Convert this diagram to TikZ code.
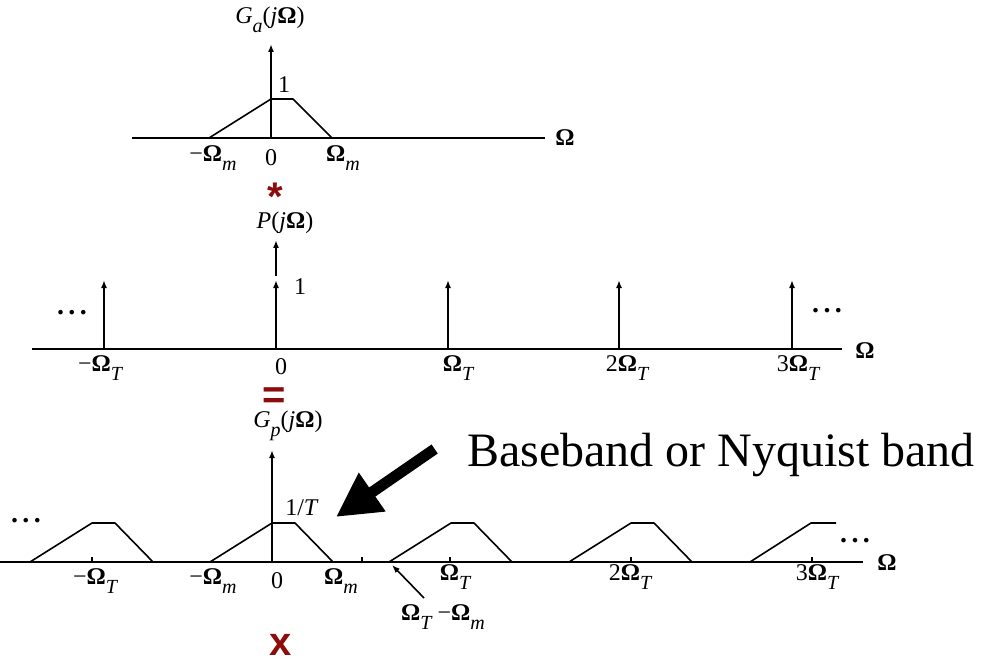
\documentclass[tikz,border=0pt]{standalone}
\usepackage{fontspec}
\setmainfont{Liberation Serif}
\newfontfamily\symfont{Liberation Sans}
\usetikzlibrary{arrows.meta,positioning}
\definecolor{darkred}{RGB}{140,12,12}
\newcommand{\Om}{\textbf{Ω}}
\newcommand{\sub}[1]{\raisebox{-0.8ex}{\fontsize{10}{11}\selectfont\itshape #1}}
\newcommand{\tdots}{\textbf{.\kern2.2pt.\kern2.2pt.}}
\tikzset{
  axis/.style={line width=0.9pt},
  imp/.style={line width=0.9pt,-{Latex[length=4pt,width=3pt]}},
  spec/.style={line width=0.8pt,line join=round},
  lbl/.style={font=\fontsize{12}{14}\selectfont,inner sep=0pt},
  dotsl/.style={font=\fontsize{14}{16}\selectfont,inner sep=0pt},
  redsym/.style={text=darkred,font=\symfont\bfseries\fontsize{20}{22}\selectfont,inner sep=0pt},
  bigarrow/.style={line width=5.5pt,-{Triangle[length=22pt,width=22pt]}}
}
\begin{document}
\begin{tikzpicture}[x=0.5pt,y=-0.5pt]
\useasboundingbox (0,0) rectangle (995,663);
\clip (0,0) rectangle (995,663);

% G_a(jOmega)
\draw[axis] (132,138) -- (545,138);
\node[lbl] (om1) at (565,138) {\Om};
\draw[imp] (271,138) -- (271,44);
\node[lbl] (ga) at (270,20) {\textit{G}\sub{a}(\textit{j}\Om)};
\draw[spec] (209,138) -- (271,99) -- (293,99) -- (332,138);
\node[lbl] (one1) at (284,85) {1};
\node[lbl] (mwm1) at (213,158) {−\Om\sub{m}};
\node[lbl] (zero1) at (271,158) {0};
\node[lbl] (wm1) at (343,158) {\Om\sub{m}};

\node[redsym] (conv) at (275,189) {\raisebox{-0.36em}[0.36em][0pt]{*}};

% P(jOmega)
\draw[axis] (32,349) -- (842,349);
\node[lbl] (om2) at (865,351) {\Om};
\foreach \x in {104,276,448,619,792}
  \draw[imp] (\x,349) -- (\x,280);
\draw[imp] (276,276) -- (276,240);
\node[lbl] (pj) at (285,223) {\textit{P}(\textit{j}\Om)};
\node[lbl] (one2) at (300,287) {1};
\node[dotsl] (dl2) at (72,313) {\tdots};
\node[dotsl] (dr2) at (827,311) {\tdots};
\node[lbl] (mwt2) at (100,368) {−\Om\sub{T}};
\node[lbl] (zero2) at (281,367) {0};
\node[lbl] (wt2) at (458,368) {\Om\sub{T}};
\node[lbl] (wt22) at (627,368) {2\Om\sub{T}};
\node[lbl] (wt32) at (798,368) {3\Om\sub{T}};

\node[redsym] (eq) at (274,394) {\raisebox{-0.19em}[0.35em][0pt]{=}};

% G_p(jOmega)
\draw[axis] (0,562) -- (863,562);
\node[lbl] (om3) at (887,563) {\Om};
\foreach \x in {92,362,450,631,812}
  \draw[axis] (\x,562) -- (\x,557);
\draw[imp] (272,562) -- (272,450);
\node[lbl] (gp) at (288,426) {\textit{G}\sub{p}(\textit{j}\Om)};
\foreach \c in {92,272,451,631}
  \draw[spec] (\c-62,562) -- (\c,523) -- (\c+23,523) -- (\c+61,562);
\draw[spec] (750,562) -- (811,523) -- (836,523);
\node[lbl] (invt) at (302,508) {1/\textit{T}};
\node[dotsl] (dl3) at (26,521) {\tdots};
\node[dotsl] (dr3) at (855,541) {\tdots};
\node[lbl] (mwt3) at (95,581) {−\Om\sub{T}};
\node[lbl] (mwm3) at (213,581) {−\Om\sub{m}};
\node[lbl] (zero3) at (277,581) {0};
\node[lbl] (wm3) at (341,581) {\Om\sub{m}};
\node[lbl] (wt3) at (455,577) {\Om\sub{T}};
\node[lbl] (wt23) at (630,577) {2\Om\sub{T}};
\node[lbl] (wt33) at (817,577) {3\Om\sub{T}};
\node[lbl] (diff) at (443,617) {\Om\sub{T} −\Om\sub{m}};
\coordinate (edge) at (392,565);
\draw[line width=0.8pt,-{Latex[length=4pt,width=3pt]}] (424,598) -- (edge);

\node[font=\fontsize{24}{28}\selectfont,inner sep=0pt] (bb) at (721,455) {Baseband or Nyquist band};
\coordinate (bbtip) at (336,517);
\draw[bigarrow] ([xshift=-16pt,yshift=3pt]bb.west) -- (bbtip);

\node[redsym] (mul) at (281,645) {x};
\end{tikzpicture}
\end{document}
